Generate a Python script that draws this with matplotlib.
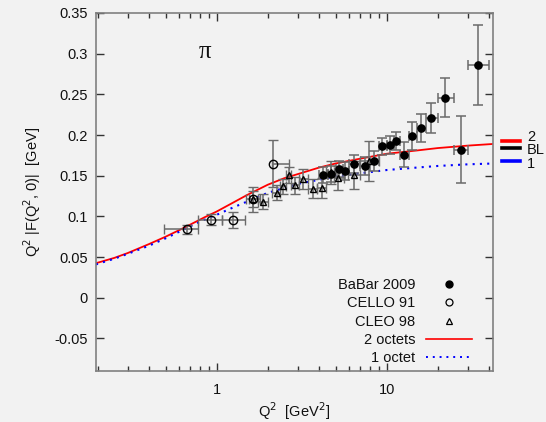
import numpy as np
import matplotlib
matplotlib.use('Agg')
import matplotlib.pyplot as plt
from matplotlib.lines import Line2D
from matplotlib.ticker import FixedLocator, FuncFormatter, LogLocator, NullFormatter

plt.rcParams['font.family'] = ['Liberation Sans', 'DejaVu Sans']
plt.rcParams['axes.unicode_minus'] = False

# BaBar 2009
babar_q2 = [4.24, 4.73, 5.22, 5.72, 6.46, 7.45, 8.43, 9.44, 10.4, 11.4, 12.7, 14.1, 15.9, 18.3, 22.1, 27.2, 34.3]
babar_f = [0.151, 0.152, 0.158, 0.156, 0.164, 0.162, 0.168, 0.186, 0.188, 0.193, 0.176, 0.199, 0.209, 0.221, 0.246, 0.182, 0.286]
babar_err = [0.010, 0.010, 0.010, 0.011, 0.011, 0.011, 0.012, 0.010, 0.011, 0.011, 0.015, 0.017, 0.017, 0.018, 0.024, 0.041, 0.049]
babar_lo = [4.0, 4.5, 5.0, 5.5, 6.0, 7.0, 8.0, 9.0, 10.0, 11.0, 12.0, 13.5, 15.0, 17.0, 20.0, 25.0, 30.0]
babar_hi = [4.5, 5.0, 5.5, 6.0, 7.0, 8.0, 9.0, 10.0, 11.0, 12.0, 13.5, 15.0, 17.0, 20.0, 25.0, 30.0, 40.0]

# CELLO 91
cello_q2 = [0.67, 0.92, 1.24, 1.64, 2.13]
cello_f = [0.084, 0.096, 0.096, 0.121, 0.165]
cello_err = [0.006, 0.007, 0.010, 0.015, 0.029]
cello_lo = [0.49, 0.78, 1.08, 1.49, 2.12]
cello_hi = [0.78, 1.08, 1.47, 1.80, 2.66]

# CLEO 98
cleo_q2 = [1.64, 1.87, 2.25, 2.46, 2.66, 2.89, 3.23, 3.70, 4.18, 4.69, 5.19, 6.42, 7.9]
cleo_f = [0.121, 0.118, 0.129, 0.137, 0.151, 0.138, 0.146, 0.134, 0.135, 0.154, 0.147, 0.151, 0.168]
cleo_err = [0.010, 0.009, 0.009, 0.009, 0.010, 0.011, 0.012, 0.012, 0.012, 0.014, 0.015, 0.017, 0.025]
cleo_lo = [1.55, 1.76, 2.12, 2.36, 2.55, 2.75, 3.05, 3.45, 3.9, 4.4, 4.9, 5.9, 7.0]
cleo_hi = [1.76, 2.0, 2.36, 2.55, 2.75, 3.05, 3.45, 3.9, 4.4, 4.9, 5.6, 7.0, 9.0]

# model curves
curve_q2 = [0.195, 0.25, 0.3, 0.4, 0.5, 0.6, 0.7, 0.85, 1.0, 1.25, 1.5, 1.75, 2.0, 2.5, 3.0,
            4.0, 5.0, 7.0, 10, 15, 20, 30, 42]
two_octets = [0.0425, 0.049, 0.055, 0.066, 0.075, 0.083, 0.090, 0.099, 0.106, 0.117, 0.126, 0.133,
              0.139, 0.147, 0.152, 0.160, 0.165, 0.171, 0.177, 0.181, 0.184, 0.187, 0.189]
one_octet = [0.041, 0.048, 0.054, 0.064, 0.073, 0.081, 0.088, 0.096, 0.102, 0.111, 0.118, 0.124,
             0.129, 0.135, 0.140, 0.145, 0.149, 0.153, 0.157, 0.160, 0.162, 0.164, 0.165]

yticks = [-0.05, 0, 0.05, 0.1, 0.15, 0.2, 0.25, 0.3, 0.35]

bg = '#f2f2f2'
fig = plt.figure(figsize=(5.46, 4.22), dpi=100, facecolor=bg)
ax = fig.add_axes([0.1758, 0.1209, 0.7266, 0.8483], facecolor=bg)


def xerr_of(q, lo, hi):
    q = np.array(q)
    return [q - np.array(lo), np.array(hi) - q]


ax.plot(curve_q2, two_octets, color='red', lw=1.3, zorder=2)
ax.plot(curve_q2, one_octet, color='blue', lw=1.5, ls=(0, (1, 2.5)), zorder=2)

eb = dict(ecolor='#6a6a6a', elinewidth=1.1, capsize=3.5, capthick=1.1, ls='none', zorder=3)
ax.errorbar(cello_q2, cello_f, yerr=cello_err, xerr=xerr_of(cello_q2, cello_lo, cello_hi),
            marker='o', ms=6, mfc='none', mec='black', mew=1.0, **eb)
ax.errorbar(cleo_q2, cleo_f, yerr=cleo_err, xerr=xerr_of(cleo_q2, cleo_lo, cleo_hi),
            marker='^', ms=5, mfc='none', mec='black', mew=1.0, **eb)
ax.errorbar(babar_q2, babar_f, yerr=babar_err, xerr=xerr_of(babar_q2, babar_lo, babar_hi),
            marker='o', ms=5.2, mfc='black', mec='black', **eb)

ax.set_xscale('log')
ax.set_xlim(0.195, 42)
ax.set_ylim(-0.09, 0.35)
ax.xaxis.set_major_locator(FixedLocator([1, 10]))
ax.xaxis.set_major_formatter(FuncFormatter(lambda v, p: '%g' % v))
ax.xaxis.set_minor_locator(LogLocator(base=10, subs=np.arange(2, 10)))
ax.xaxis.set_minor_formatter(NullFormatter())
ax.yaxis.set_major_locator(FixedLocator(yticks))
ax.yaxis.set_major_formatter(FuncFormatter(lambda v, p: '%g' % round(v, 3)))

ax.tick_params(which='both', direction='in', top=True, right=True, colors='#333333',
               labelsize=10.5, labelcolor='#111111')
ax.tick_params(which='major', length=6, width=1)
ax.tick_params(which='minor', length=3.5, width=1)
ax.tick_params(axis='x', pad=9)
ax.tick_params(axis='y', pad=6)
for s in ax.spines.values():
    s.set_color('#808080')
    s.set_linewidth(1.2)

ax.set_xlabel('Q$^2$  [GeV$^2$]', fontsize=10.5, color='#111111', labelpad=2)
ax.set_ylabel('Q$^2$ |F(Q$^2$, 0)|  [GeV]', fontsize=10.5, color='#111111', labelpad=8)

ax.text(0.85, 0.302, 'π', fontsize=18, family=['Liberation Serif', 'DejaVu Serif'],
        ha='center', va='center', color='#111111')

handles = [
    Line2D([], [], ls='none', marker='o', ms=5, mfc='black', mec='black'),
    Line2D([], [], ls='none', marker='o', ms=5, mfc='none', mec='black', mew=0.9),
    Line2D([], [], ls='none', marker='^', ms=4.5, mfc='none', mec='black', mew=0.9),
    Line2D([], [], color='red', lw=1.2),
    Line2D([], [], color='blue', lw=1.4, ls=(0, (1, 2.5))),
]
labels = ['BaBar 2009', 'CELLO 91', 'CLEO 98', '2 octets', '1 octet']
ax.legend(handles, labels, loc='lower right', bbox_to_anchor=(0.978, -0.017), frameon=False,
          markerfirst=False, fontsize=10.5, handlelength=3.2, handletextpad=0.7,
          labelspacing=0.3, borderpad=0.3, labelcolor='#111111')

# side legend outside the axes
side = [('2', 'red', 141), ('BL', 'black', 147.5), ('1', 'blue', 161)]
for lab, col, py in side:
    yy = 1 - py / 422
    fig.add_artist(Line2D([502 / 546, 520 / 546], [yy, yy], color=col, lw=2.6))
for lab, py in [('2', 137), ('BL', 150), ('1', 164)]:
    fig.text(527 / 546, 1 - py / 422, lab, fontsize=10.5, va='center', ha='left', color='#111111')

fig.savefig('out.png', dpi=100, facecolor=bg)
